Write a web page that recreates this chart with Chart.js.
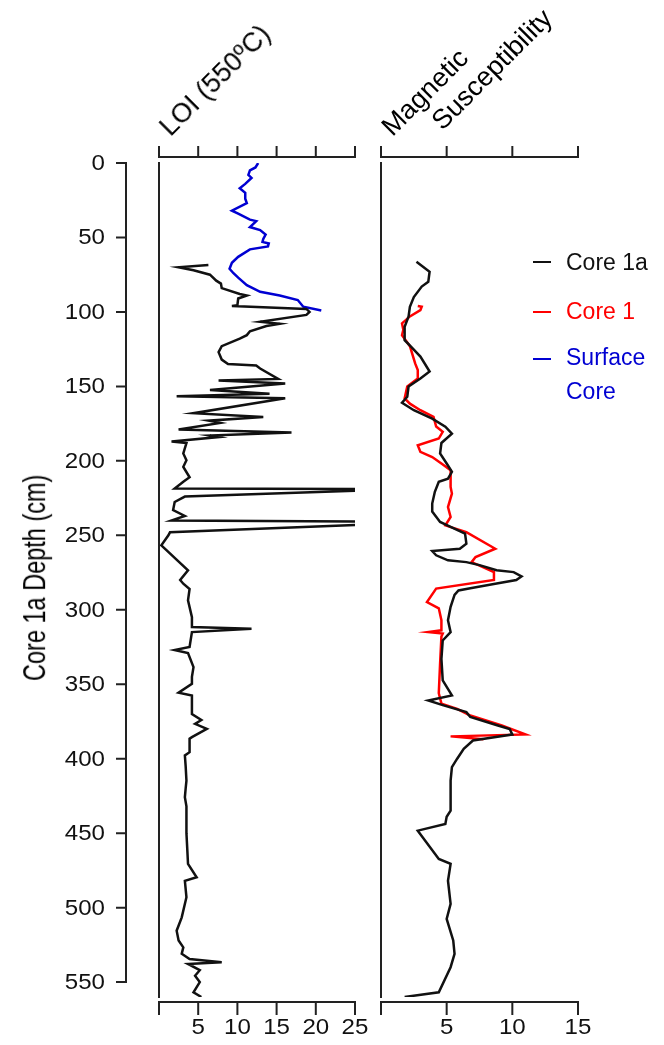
<!DOCTYPE html>
<html>
<head>
<meta charset="utf-8">
<script src="https://cdn.jsdelivr.net/npm/chart.js@4.4.1/dist/chart.umd.min.js"></script>
<style>
    html, body { margin: 0; padding: 0; background: #fff; }
    #wrap { position: relative; width: 664px; height: 1045px; overflow: hidden; font-family: "Liberation Sans", Arial, sans-serif; }
    canvas { position: absolute; left: 0; top: 0; }
    .txt { position: absolute; white-space: nowrap; line-height: 1; font-size: 23px; }
    .rot45 { font-size: 27px; transform-origin: 0 22.85px; transform: rotate(-45deg); }
    .key { position: absolute; height: 2px; width: 18px; }
</style>
</head>
<body>
<div id="wrap">
    <canvas id="loiChart" width="664" height="1045"></canvas>
    <canvas id="msChart" width="664" height="1045"></canvas>

    <div class="txt rot45" style="left:171px; top:115px;">LOI (550ºC)</div>
    <div class="txt rot45" style="left:393px; top:115px;">Magnetic</div>
    <div class="txt rot45" style="left:443px; top:109px;">Susceptibility</div>
    <div class="txt" style="left:-164px; top:566px; width:400px; text-align:center; font-size:23.5px; transform:scaleX(1.3) rotate(-90deg);">Core 1a Depth (cm)</div>

    <div class="key" style="left:533px; top:261px; background:#111;"></div>
    <div class="txt" style="left:566px; top:251px; color:#111;">Core 1a</div>
    <div class="key" style="left:533px; top:311px; background:#ff0000;"></div>
    <div class="txt" style="left:566px; top:300px; color:#ff0000;">Core 1</div>
    <div class="key" style="left:533px; top:358px; background:#0000d2;"></div>
    <div class="txt" style="left:566px; top:346px; color:#0000d2;">Surface</div>
    <div class="txt" style="left:566px; top:380px; color:#0000d2;">Core</div>
</div>
<script>
// depth ticks and x ticks
const depthTicks = [0, 50, 100, 150, 200, 250, 300, 350, 400, 450, 500, 550];
const loiTicks = [0, 5, 10, 15, 20, 25];
const msTicks = [0, 5, 10, 15];

// LOI (550C), Core 1a
const loiCore1aDepth = [68.5, 70, 72, 75, 79, 81, 84, 88, 89, 91, 95.5, 96, 98, 100, 102, 106.6, 108, 109.5, 113, 115.6,
    118, 123, 127, 132, 135, 136, 138, 145, 146, 148, 152.5, 155, 156.6, 158, 168, 170.5, 173, 174.5, 179, 181,
    183, 184, 187, 188, 195, 199.6, 204, 211, 214, 218.6, 219, 219.8, 224, 227.6, 233, 237, 240, 240.8, 242.6, 248,
    250, 256.7, 273.5, 280, 282.5, 286, 293.7, 305, 311.6, 312.7, 315, 325, 327, 329, 338.5, 345, 349.7, 355.7, 357.5, 370,
    374, 376.6, 380, 385.5, 386.6, 395.6, 397.8, 405, 414.7, 420, 425.9, 432, 441.5, 450, 460, 470.6, 479.6, 482, 493,
    506.5, 515.5, 522, 526.7, 531, 534.5, 536.7, 537.8, 542, 545.7, 550, 556.8, 560];
const loiCore1aValue = [6.3, 2.5, 4.4, 6.5, 7.3, 7.9, 8.0, 10.3, 11.2, 10.1, 10.0, 9.3, 18.8, 19.2, 18.8, 12.9, 15.4, 13.7, 11.6, 11.2,
    10.3, 8.0, 7.6, 8.0, 8.8, 12.4, 12.9, 15.2, 7.6, 16.1, 6.5, 14.1, 2.25, 16.1, 4.4, 13.3, 6.3, 7.8, 2.5, 16.9,
    6.5, 7.6, 1.6, 3.5, 3.1, 3.5, 3.1, 3.9, 3.1, 2.0, 27, 27, 3.3, 2.0, 1.8, 3.3, 1.6, 27, 27, 1.4,
    1.2, 0.3, 3.7, 2.7, 3.1, 3.9, 3.7, 4.2, 4.2, 11.8, 4.2, 3.9, 2.0, 3.7, 4.4, 4.2, 4.2, 2.5, 4.2, 4.2,
    5.4, 4.6, 6.1, 4.2, 3.9, 3.9, 3.3, 3.4, 3.5, 3.4, 3.3, 3.5, 3.5, 3.5, 3.6, 3.7, 4.8, 3.3, 3.5,
    2.9, 2.25, 2.5, 3.1, 2.9, 3.9, 8.0, 3.7, 5.2, 4.6, 5.2, 4.4, 5.4];

// LOI (550C), Surface Core
const loiSurfaceDepth = [0, 3, 5, 8, 10, 14, 17, 20, 24, 27, 32, 34, 38, 39, 43, 45, 48, 51, 53, 54,
    56, 58, 63, 67, 71, 74, 77, 82, 86.5, 89, 92, 96.5, 99];
const loiSurfaceValue = [12.65, 12.3, 11.6, 11.4, 11.8, 11.0, 10.3, 11.0, 11.0, 11.2, 9.3, 10.1, 11.6, 12.4, 11.6, 12.9, 13.6, 13.3, 13.2, 14.0,
    13.9, 11.6, 10.1, 9.3, 9.0, 9.5, 10.1, 11.2, 12.9, 15.4, 17.7, 18.4, 20.7];

// Magnetic susceptibility, Core 1a
const msCore1aDepth = [66.3, 73, 79.8, 83, 90, 96.5, 103, 110, 119, 123.4, 130, 140, 144.7, 150, 157, 161, 166, 171.6, 177, 181.7,
    188, 195, 201.8, 207.4, 212, 214, 220.8, 228.7, 234, 241, 244.4, 248.9, 255.6, 259, 260.6, 263.4, 266.8, 268, 270, 273.5,
    274.7, 277.6, 280, 282.5, 285.5, 287, 290, 298, 307, 315, 320.6, 333, 347.4, 357.5, 360.9, 364, 368.7, 372, 377.7, 380,
    383.7, 387.8, 393.4, 400, 405.7, 414.7, 421, 434.8, 439, 443.8, 448.3, 467.3, 470.6, 481.9, 497.5, 507.6, 522, 531, 540, 556.8, 560];
const msCore1aValue = [2.7, 3.7, 3.6, 3.1, 2.5, 2.2, 2.1, 1.8, 1.8, 2.3, 3.0, 3.7, 3.0, 2.1, 2.0, 1.6, 2.5, 3.9, 4.9, 5.4,
    4.6, 4.5, 5.0, 5.4, 5.1, 4.4, 4.1, 3.9, 3.9, 4.5, 5.3, 6.4, 6.5, 6.0, 3.9, 4.2, 5.1, 6.5, 7.5, 8.8,
    10.1, 10.7, 10.3, 8.7, 6.8, 5.9, 5.6, 5.3, 5.1, 5.3, 4.7, 4.6, 4.7, 5.4, 3.6, 4.7, 6.5, 6.8, 8.9, 9.8,
    10.0, 7.0, 6.3, 5.8, 5.4, 5.3, 5.3, 5.3, 5.0, 4.9, 2.8, 4.4, 5.3, 5.1, 5.3, 5.0, 5.5, 5.6, 5.3, 4.4, 1.8];

// Magnetic susceptibility, Core 1
const msCore1Depth = [96, 96.5, 98.8, 103, 107.7, 112, 115.6, 123, 134.6, 139, 144.7, 150, 158, 161.6, 166, 170.5, 177, 180.5, 185, 189.5,
    194, 197.4, 201.8, 206.3, 217.5, 222, 231, 237.7, 243.3, 247.8, 259, 264.6, 268, 274.7, 280, 285.8, 294.8, 299, 307, 313.8,
    315, 316, 318, 336, 356, 363, 366.5, 371, 377.7, 383.7, 385, 387];
const msCore1Value = [2.8, 3.1, 3.0, 2.2, 1.6, 1.7, 1.6, 2.2, 2.6, 2.8, 2.8, 2.0, 1.8, 2.2, 3.0, 4.0, 4.2, 4.7, 4.4, 2.8,
    3.0, 3.9, 4.6, 5.3, 5.3, 5.4, 5.1, 5.3, 4.9, 6.5, 8.7, 7.2, 6.9, 8.6, 8.6, 4.2, 3.5, 4.4, 4.6, 4.6,
    3.6, 4.7, 4.6, 4.5, 4.4, 4.6, 5.8, 6.8, 9.2, 11.0, 5.3, 7.8];

function toPoints(depths, values) {
    return depths.map((d, i) => ({ x: values[i], y: d }));
}

// draws a label a bit wider than the font, like the stretched original
function wideText(ctx, text, x, y, sx) {
    ctx.save();
    ctx.translate(x, y);
    ctx.scale(sx, 1);
    ctx.fillText(text, 0, 0);
    ctx.restore();
}

// R style axes: detached from the panel, drawn from the chart's own scales
const rAxes = {
    id: 'rAxes',
    afterDraw(chart, args, opts) {
        const { ctx, chartArea: a } = chart;
        const x = chart.scales.x, y = chart.scales.y;
        const first = x.getPixelForValue(opts.xTicks[0]);
        const last = x.getPixelForValue(opts.xTicks[opts.xTicks.length - 1]);
        const top = a.top - 6, bot = a.bottom + 5;
        ctx.save();
        ctx.strokeStyle = '#222';
        ctx.fillStyle = '#111';
        ctx.lineWidth = 2;
        ctx.lineCap = 'square';
        ctx.beginPath();
        ctx.moveTo(first, a.top); ctx.lineTo(first, a.bottom);
        ctx.moveTo(first, top); ctx.lineTo(last, top);
        ctx.moveTo(first, bot); ctx.lineTo(last, bot);
        opts.xTicks.forEach(v => {
            const px = x.getPixelForValue(v);
            ctx.moveTo(px, top); ctx.lineTo(px, top - 10);
            ctx.moveTo(px, bot); ctx.lineTo(px, bot + 12);
        });
        if (opts.yTicks) {
            const ax = opts.yAxisX;
            ctx.moveTo(ax, y.getPixelForValue(opts.yTicks[0]));
            ctx.lineTo(ax, y.getPixelForValue(opts.yTicks[opts.yTicks.length - 1]));
            opts.yTicks.forEach(v => {
                const py = y.getPixelForValue(v);
                ctx.moveTo(ax, py); ctx.lineTo(ax - 9, py);
            });
        }
        ctx.stroke();

        ctx.font = '21.5px "Liberation Sans", Arial, sans-serif';
        ctx.textAlign = 'center';
        ctx.textBaseline = 'middle';
        opts.xTicks.forEach(v => {
            if (v === 0) return; // R drops the 0 label here
            wideText(ctx, String(v), x.getPixelForValue(v), bot + 26, 1.12);
        });
        if (opts.yTicks) {
            ctx.textAlign = 'right';
            opts.yTicks.forEach(v => {
                wideText(ctx, String(v), opts.yAxisX - 21, y.getPixelForValue(v) + 1, 1.12);
            });
        }
        ctx.restore();
    }
};

function lineSet(label, depths, values, color) {
    return {
        label: label,
        data: toPoints(depths, values),
        showLine: true,
        borderColor: color,
        backgroundColor: color,
        borderWidth: 2.5,
        pointRadius: 0,
        tension: 0,
        clip: 0
    };
}

function panelOptions(xMax, leftPad, rightPad, axesOpts) {
    return {
        responsive: false,
        animation: false,
        events: [],
        layout: { padding: { left: leftPad, right: rightPad, top: 163, bottom: 48 } },
        plugins: {
            legend: { display: false },
            tooltip: { enabled: false },
            rAxes: axesOpts
        },
        scales: {
            x: { type: 'linear', min: 0, max: xMax, display: false },
            y: { type: 'linear', reverse: true, min: 0, max: 560, display: false }
        }
    };
}

new Chart(document.getElementById('loiChart').getContext('2d'), {
    type: 'scatter',
    data: {
        datasets: [
            lineSet('Core 1a', loiCore1aDepth, loiCore1aValue, '#111'),
            lineSet('Surface Core', loiSurfaceDepth, loiSurfaceValue, '#0000d2')
        ]
    },
    options: panelOptions(25, 159, 309, { xTicks: loiTicks, yTicks: depthTicks, yAxisX: 126 }),
    plugins: [rAxes]
});

new Chart(document.getElementById('msChart').getContext('2d'), {
    type: 'scatter',
    data: {
        datasets: [
            lineSet('Core 1a', msCore1aDepth, msCore1aValue, '#111'),
            lineSet('Core 1', msCore1Depth, msCore1Value, '#ff0000')
        ]
    },
    options: panelOptions(15, 381, 86, { xTicks: msTicks }),
    plugins: [rAxes]
});
</script>
</body>
</html>
